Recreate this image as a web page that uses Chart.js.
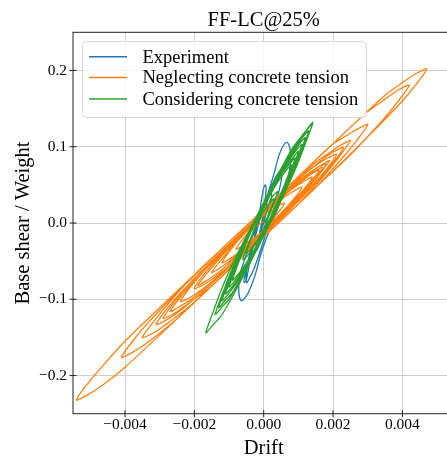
<!DOCTYPE html>
<html>
<head>
<meta charset="utf-8">
<script src="https://cdn.jsdelivr.net/npm/chart.js@4.4.1/dist/chart.umd.min.js"></script>
<style>
  html, body { margin: 0; padding: 0; background: #fff; overflow: hidden; }
  #wrap { position: relative; width: 462px; height: 459px; }
</style>
</head>
<body>
<div id="wrap"><canvas id="hyst"></canvas></div>
<script>
// series: [drift, base shear / weight]
const experimentPts = [
  [0, 0], [0.00006, 0.015], [0.0001, 0.028], [0.00011, 0.034], [0.00008, 0.034], [0.00003, 0.022],
  [-0.00005, 0.002], [-0.00014, -0.018], [-0.0002, -0.03], [-0.00021, -0.036], [-0.00016, -0.032],
  [-0.00008, -0.014], [0, 0.012], [0.00005, 0.034], [0.00007, 0.046], [0.00004, 0.05], [-0.00002, 0.042],
  [-0.0001, 0.02], [-0.00022, -0.008], [-0.00036, -0.036], [-0.00048, -0.058], [-0.00056, -0.072],
  [-0.00056, -0.078], [-0.0005, -0.074], [-0.00042, -0.056], [-0.0003, -0.03], [-0.00014, 0],
  [0.0001, 0.035], [0.0003, 0.065], [0.00045, 0.09], [0.00058, 0.1026], [0.00067, 0.1056],
  [0.00074, 0.101], [0.00077, 0.092], [0.00077, 0.08], [0.00074, 0.068], [0.00066, 0.052],
  [0.00046, 0.026], [0.00017, -0.009], [-0.00007, -0.039], [-0.00026, -0.07], [-0.00045, -0.092],
  [-0.00058, -0.1], [-0.00064, -0.102], [-0.0007, -0.097], [-0.00072, -0.087], [-0.0007, -0.07],
  [-0.00055, -0.048], [-0.00036, -0.022], [-0.00012, 0.004], [0.00012, 0.035], [0.0003, 0.056],
  [0.00044, 0.067], [0.00051, 0.068], [0.00052, 0.06], [0.00042, 0.038], [0.00022, 0.008],
  [-0.00008, -0.034], [-0.00028, -0.06], [-0.00043, -0.074], [-0.00049, -0.078], [-0.00051, -0.07],
  [-0.00045, -0.05], [-0.0003, -0.024], [-0.0001, 0.006], [0.0001, 0.03], [0.0002, 0.04],
  [0.00023, 0.036], [0.00016, 0.016], [0.00002, -0.01], [-0.00012, -0.028], [-0.00018, -0.032],
  [-0.00014, -0.02], [-0.00005, -0.006], [0, 0]
];

const neglectingPts = [
  [0, 0], [0.0003, 0.019], [0.0006, 0.026],
  [0.0003, 0.007], [0, -0.009], [-0.0005, -0.0305], [-0.0009, -0.0447], [-0.0012, -0.052],
  [-0.0009, -0.032], [-0.0005, -0.0105], [0, 0.012], [0.0005, 0.0335], [0.001, 0.055], [0.0015, 0.0715], [0.0018, 0.077],
  [0.0015, 0.0575], [0.001, 0.031], [0, -0.015], [-0.001, -0.058], [-0.0016, -0.081], [-0.0021, -0.097], [-0.0024, -0.103],
  [-0.0021, -0.083], [-0.0016, -0.057], [-0.001, -0.028], [0, 0.015], [0.001, 0.058], [0.0015, 0.0755], [0.0018, 0.084], [0.0021, 0.09],
  [0.0018, 0.07], [0.0013, 0.044], [0.0005, 0.0065], [-0.0005, -0.0365], [-0.0015, -0.0795], [-0.0023, -0.111], [-0.0028, -0.127], [-0.0031, -0.133],
  [-0.0028, -0.113], [-0.0023, -0.087], [-0.0015, -0.0495], [-0.0005, -0.0065], [0.0005, 0.0365], [0.0015, 0.0795], [0.0018, 0.089], [0.0022, 0.1016], [0.0025, 0.108],
  [0.0022, 0.088], [0.0017, 0.06], [0.001, 0.025], [0, -0.018], [-0.001, -0.061], [-0.002, -0.104], [-0.0027, -0.129], [-0.0032, -0.1446], [-0.0035, -0.15],
  [-0.0032, -0.1306], [-0.0027, -0.103], [-0.002, -0.068], [-0.001, -0.025], [0, 0.018], [0.001, 0.061], [0.002, 0.104], [0.0023, 0.112], [0.0027, 0.123], [0.003, 0.129],
  [0.0027, 0.109], [0.0022, 0.0816], [0.0015, 0.0465], [0.0005, 0.0035], [-0.0005, -0.0395], [-0.0015, -0.0825], [-0.0025, -0.1255], [-0.0033, -0.155], [-0.0038, -0.17], [-0.0041, -0.176],
  [-0.0038, -0.156], [-0.0033, -0.129], [-0.0025, -0.0915], [-0.0015, -0.0465], [-0.0005, -0.0035], [0.0005, 0.0395], [0.0015, 0.0825], [0.0025, 0.1255], [0.0035, 0.1675], [0.0039, 0.181], [0.0044, 0.196], [0.0047, 0.202],
  [0.0044, 0.182], [0.0039, 0.155], [0.003, 0.113], [0.002, 0.068], [0.001, 0.025], [0, -0.018], [-0.001, -0.061], [-0.002, -0.104], [-0.003, -0.147], [-0.004, -0.189], [-0.0046, -0.211], [-0.0051, -0.226], [-0.0054, -0.232],
  [-0.0051, -0.212], [-0.0046, -0.185], [-0.004, -0.155], [-0.003, -0.111], [-0.002, -0.068], [-0.001, -0.025], [0, 0.018], [0.001, 0.061], [0.002, 0.104], [0.003, 0.146], [0.0034, 0.159], [0.0039, 0.175], [0.0042, 0.181],
  [0.0039, 0.161], [0.0034, 0.133], [0.0025, 0.0895], [0.0015, 0.0465], [0.0005, 0.0035], [-0.0005, -0.0395], [-0.0015, -0.0825], [-0.0021, -0.103], [-0.0026, -0.119], [-0.0029, -0.125],
  [-0.0026, -0.105], [-0.0021, -0.078], [-0.0013, -0.041], [-0.0003, 0.002], [0.0007, 0.045], [0.0015, 0.0765], [0.002, 0.093], [0.0023, 0.099],
  [0.002, 0.079], [0.0015, 0.0525], [0.0007, 0.015], [-0.0003, -0.028], [-0.0012, -0.064], [-0.0017, -0.08], [-0.002, -0.086],
  [-0.0017, -0.066], [-0.0012, -0.0406], [-0.0005, -0.0095], [0.0003, 0.025], [0.0008, 0.044], [0.0011, 0.053], [0.0014, 0.06],
  [0.0011, 0.041], [0.0006, 0.017], [0, -0.009], [-0.0005, -0.0275], [-0.0008, -0.034],
  [-0.0005, -0.0155], [0, 0.01], [0.0006, 0.036], [0.0011, 0.055], [0.0014, 0.065], [0.0016, 0.069],
  [0.0013, 0.051], [0.0008, 0.024], [0, -0.011], [-0.0008, -0.045], [-0.0013, -0.065], [-0.0016, -0.074], [-0.0019, -0.082],
  [-0.0016, -0.064], [-0.0011, -0.038], [-0.0003, -0.002], [0.0005, 0.0325], [0.0012, 0.061], [0.0016, 0.074], [0.0019, 0.082],
  [0.0016, 0.064], [0.0011, 0.037], [0.0003, 0], [-0.0005, -0.0345], [-0.0013, -0.069], [-0.002, -0.097], [-0.0024, -0.109], [-0.0027, -0.116],
  [-0.0024, -0.097], [-0.002, -0.076], [-0.0012, -0.0386], [-0.0004, -0.004], [0.0004, 0.03], [0.001, 0.054], [0.0014, 0.066], [0.0017, 0.073],
  [0.0014, 0.054], [0.0009, 0.029], [0.0001, -0.007], [-0.0007, -0.04], [-0.0012, -0.057], [-0.0015, -0.065],
  [-0.0012, -0.047], [-0.0007, -0.021], [0, 0.01], [0.0005, 0.0305], [0.0008, 0.04], [0.0011, 0.047],
  [0.0008, 0.028], [0.0003, 0.004], [-0.0003, -0.021], [-0.0006, -0.026],
  [-0.0003, -0.008], [0, 0.002]
];

const consideringPts = [
  [0, 0], [0.0002, 0.031], [0.0004, 0.041],
  [0.0002, 0.015], [-0.0001, -0.016], [-0.0004, -0.039], [-0.0006, -0.048],
  [-0.0004, -0.023], [-0.0001, 0.01], [0.0003, 0.046], [0.0006, 0.066], [0.0008, 0.076],
  [0.0006, 0.05], [0.0003, 0.018], [-0.0001, -0.02], [-0.0005, -0.0535], [-0.0008, -0.074], [-0.001, -0.084],
  [-0.0008, -0.058], [-0.0005, -0.0235], [-0.0001, 0.014], [0.0003, 0.05], [0.0006, 0.073], [0.0009, 0.093], [0.0011, 0.103],
  [0.0009, 0.077], [0.0006, 0.042], [0.0002, 0.003], [-0.0002, -0.033], [-0.0006, -0.068], [-0.001, -0.1], [-0.0012, -0.11], [-0.0014, -0.12],
  [-0.0012, -0.094], [-0.0009, -0.059], [-0.0005, -0.0185], [-0.0001, 0.017], [0.0003, 0.053], [0.0007, 0.085], [0.0011, 0.111], [0.0013, 0.121],
  [0.0011, 0.095], [0.0008, 0.06], [0.0004, 0.019], [0, -0.017], [-0.0004, -0.053], [-0.0008, -0.088], [-0.0012, -0.12], [-0.00147, -0.134], [-0.00167, -0.144],
  [-0.00147, -0.118], [-0.0012, -0.085], [-0.0008, -0.044], [-0.0004, -0.009], [0, 0.027], [0.0004, 0.0626], [0.0008, 0.096], [0.0012, 0.12], [0.00142, 0.132],
  [0.0012, 0.104], [0.0009, 0.069], [0.0005, 0.0295], [0.0001, -0.006], [-0.0003, -0.042], [-0.0007, -0.073], [-0.001, -0.092], [-0.0012, -0.102],
  [-0.001, -0.076], [-0.0007, -0.041], [-0.0003, -0.002], [0.0001, 0.034], [0.0005, 0.0695], [0.0009, 0.101], [0.0012, 0.119], [0.0014, 0.13],
  [0.0012, 0.104], [0.0009, 0.07], [0.0005, 0.0315], [0.0001, -0.004], [-0.0003, -0.038], [-0.0007, -0.065], [-0.0009, -0.075],
  [-0.0007, -0.049], [-0.0004, -0.015], [0, 0.022], [0.0004, 0.056], [0.0008, 0.083], [0.001, 0.094],
  [0.0008, 0.068], [0.0005, 0.0335], [0.0001, -0.004], [-0.0003, -0.04], [-0.0006, -0.064], [-0.0009, -0.083], [-0.0011, -0.093],
  [-0.0009, -0.067], [-0.0006, -0.032], [-0.0002, 0.006], [0.0002, 0.042], [0.0006, 0.075], [0.001, 0.102], [0.0012, 0.112],
  [0.001, 0.086], [0.0007, 0.051], [0.0003, 0.012], [-0.0001, -0.024], [-0.0005, -0.0595], [-0.0009, -0.091], [-0.0011, -0.101], [-0.0013, -0.111],
  [-0.0011, -0.085], [-0.0008, -0.05], [-0.0004, -0.012], [0, 0.024], [0.0004, 0.057], [0.0007, 0.075], [0.0009, 0.085],
  [0.0007, 0.059], [0.0004, 0.027], [0, -0.009], [-0.0003, -0.03], [-0.0005, -0.04],
  [-0.0003, -0.014], [0, 0.015], [0.0003, 0.032],
  [0.0001, 0.006], [0, 0]
];

const seriesNames = ['Experiment', 'Neglecting concrete tension', 'Considering concrete tension'];
const seriesColors = ['#1f77b4', '#ff7f0e', '#2ca02c'];
const xTicks = [-0.004, -0.002, 0, 0.002, 0.004];
const xTickLabels = ['\u22120.004', '\u22120.002', '0.000', '0.002', '0.004'];
const yTicks = [-0.2, -0.1, 0, 0.1, 0.2];
const yTickLabels = ['\u22120.2', '\u22120.1', '0.0', '0.1', '0.2'];

const serif = '"Liberation Serif", "Times New Roman", serif';
const toXY = pts => pts.map(p => ({ x: p[0], y: p[1] }));

// matplotlib-like frame, in-out ticks, titles and legend
const decor = {
  id: 'decor',
  afterDatasetsDraw(chart) {
    const { ctx, chartArea: a, scales } = chart;
    ctx.save();
    ctx.strokeStyle = '#222';
    ctx.lineWidth = 1;
    ctx.strokeRect(a.left, a.top, a.right - a.left, a.bottom - a.top);

    ctx.beginPath();
    xTicks.forEach(v => {
      const px = scales.x.getPixelForValue(v);
      ctx.moveTo(px, a.bottom - 3.5); ctx.lineTo(px, a.bottom + 3.5);
    });
    yTicks.forEach(v => {
      const py = scales.y.getPixelForValue(v);
      ctx.moveTo(a.left - 3.5, py); ctx.lineTo(a.left + 3.5, py);
    });
    ctx.stroke();

    // legend
    const lx = 82.5, ly = 41.5, lw = 284, lh = 76, r = 4;
    ctx.beginPath();
    ctx.moveTo(lx + r, ly);
    ctx.arcTo(lx + lw, ly, lx + lw, ly + lh, r);
    ctx.arcTo(lx + lw, ly + lh, lx, ly + lh, r);
    ctx.arcTo(lx, ly + lh, lx, ly, r);
    ctx.arcTo(lx, ly, lx + lw, ly, r);
    ctx.closePath();
    ctx.fillStyle = 'rgba(255,255,255,0.8)';
    ctx.fill();
    ctx.strokeStyle = '#d6d6d6';
    ctx.stroke();

    const rows = [56.7, 77.5, 99];
    ctx.font = '18.5px ' + serif;
    ctx.textBaseline = 'middle';
    ctx.textAlign = 'left';
    seriesNames.forEach((name, i) => {
      ctx.strokeStyle = seriesColors[i];
      ctx.lineWidth = 1.5;
      ctx.beginPath();
      ctx.moveTo(89, rows[i]); ctx.lineTo(127, rows[i]);
      ctx.stroke();
      ctx.fillStyle = '#000';
      ctx.fillText(name, 142.5, rows[i] + 1);
    });
    ctx.restore();
  },
  afterDraw(chart) {
    const { ctx, chartArea: a } = chart;
    const cx = (a.left + a.right) / 2;
    ctx.save();
    ctx.fillStyle = '#000';
    ctx.textAlign = 'center';
    ctx.textBaseline = 'alphabetic';
    ctx.font = '20.5px ' + serif;
    ctx.fillText('FF-LC@25%', cx, 26);
    ctx.fillText('Drift', cx, 454);
    ctx.translate(29, (a.top + a.bottom) / 2);
    ctx.rotate(-Math.PI / 2);
    ctx.fillText('Base shear / Weight', 0, 0);
    ctx.restore();
  }
};

new Chart(document.getElementById('hyst'), {
  type: 'scatter',
  data: {
    datasets: [
      { label: seriesNames[0], data: toXY(experimentPts), borderColor: seriesColors[0], order: 3, tension: 0.35 },
      { label: seriesNames[1], data: toXY(neglectingPts), borderColor: seriesColors[1], order: 2, tension: 0.25 },
      { label: seriesNames[2], data: toXY(consideringPts), borderColor: seriesColors[2], order: 1, tension: 0.25 }
    ].map(d => Object.assign(d, {
      showLine: true, pointRadius: 0, pointHoverRadius: 0, borderWidth: 1.3, fill: false
    }))
  },
  options: {
    responsive: true,
    maintainAspectRatio: false,
    animation: false,
    devicePixelRatio: 1,
    layout: { padding: { top: 32.3, right: 7.6, bottom: 0, left: 0 } },
    plugins: { legend: { display: false }, tooltip: { enabled: false } },
    scales: {
      x: {
        type: 'linear', min: -0.0055, max: 0.0055,
        afterFit: s => { s.height = 45.3; },
        afterBuildTicks: s => { s.ticks = xTicks.map(v => ({ value: v })); },
        ticks: {
          padding: 2, color: '#000', font: { family: serif, size: 15.5 },
          callback: (v) => xTickLabels[xTicks.indexOf(v)] ?? ''
        },
        grid: { color: '#cfcfcf', lineWidth: 1, drawTicks: false },
        border: { display: false }
      },
      y: {
        type: 'linear', min: -0.25, max: 0.25,
        afterFit: s => { s.width = 73; },
        afterBuildTicks: s => { s.ticks = yTicks.map(v => ({ value: v })); },
        ticks: {
          padding: 6, color: '#000', font: { family: serif, size: 15.5 },
          callback: (v) => yTickLabels[yTicks.indexOf(v)] ?? ''
        },
        grid: { color: '#cfcfcf', lineWidth: 1, drawTicks: false },
        border: { display: false }
      }
    }
  },
  plugins: [decor]
});
</script>
</body>
</html>
